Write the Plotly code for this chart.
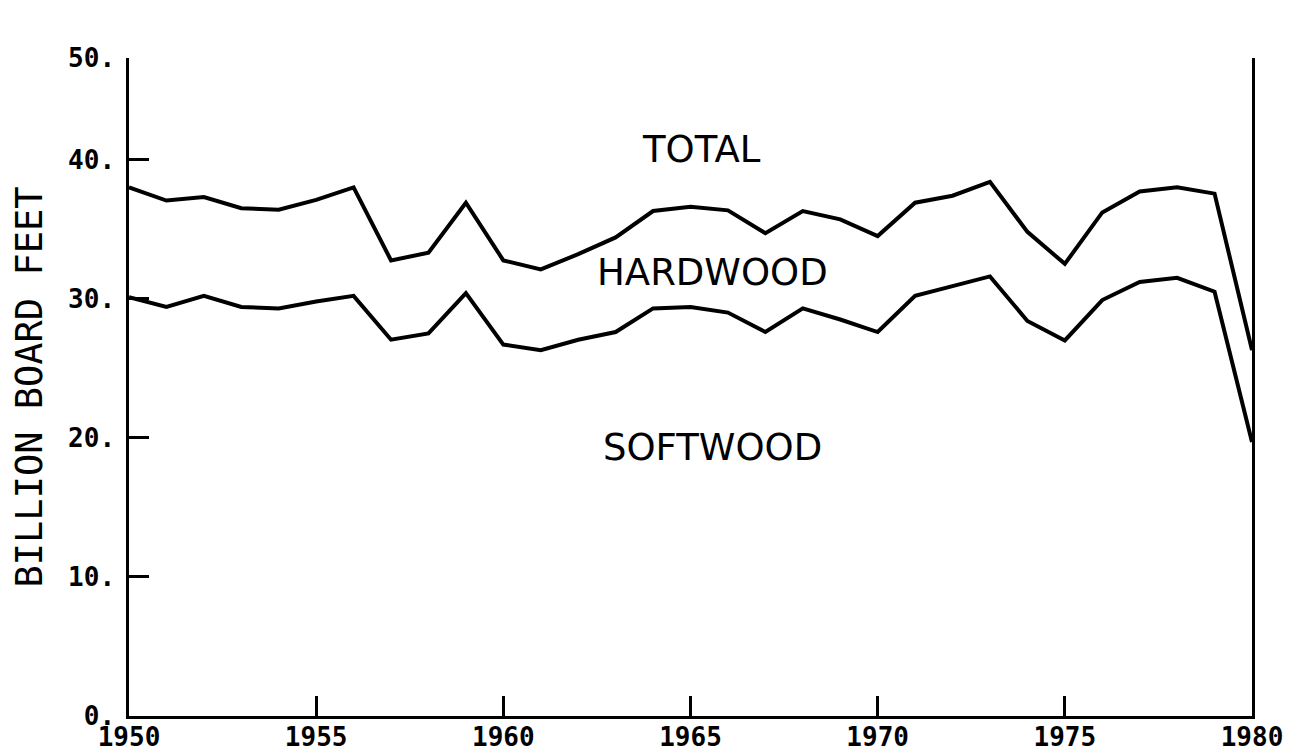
import plotly.graph_objects as go

years = list(range(1950, 1981))
total = [38.0, 37.05, 37.3, 36.5, 36.4, 37.1, 38.0, 32.75, 33.3, 36.9,
         32.75, 32.1, 33.2, 34.4, 36.3, 36.6, 36.35, 34.7, 36.3, 35.7,
         34.5, 36.9, 37.4, 38.4, 34.8, 32.5, 36.2, 37.7, 38.0, 37.55, 26.3]
softwood = [30.1, 29.4, 30.2, 29.4, 29.3, 29.8, 30.2, 27.05, 27.5, 30.4,
            26.7, 26.3, 27.05, 27.6, 29.3, 29.4, 29.0, 27.6, 29.3, 28.5,
            27.6, 30.2, 30.9, 31.6, 28.4, 27.0, 29.9, 31.2, 31.5, 30.5, 19.7]

x_ticks = [1950, 1955, 1960, 1965, 1970, 1975, 1980]
x_ticktext = ["1950", "1955", "1960", "1965", "1970", "1975", "1980"]
y_ticks = [0, 10, 20, 30, 40, 47.3]
y_ticktext = ["0.", "10.", "20.", "30.", "40.", "50."]
labels = ["TOTAL", "HARDWOOD", "SOFTWOOD"]
label_x = [1965.3, 1965.6, 1965.6]
label_y = [40.7, 31.9, 19.3]

fig = go.Figure()
fig.add_trace(go.Scatter(x=years, y=total, mode="lines",
                         line=dict(color="black", width=4), showlegend=False))
fig.add_trace(go.Scatter(x=years, y=softwood, mode="lines",
                         line=dict(color="black", width=4), showlegend=False))

for t, lx, ly in zip(labels, label_x, label_y):
    fig.add_annotation(x=lx, y=ly, text=t, showarrow=False,
                       font=dict(family="DejaVu Sans", size=37, color="black"))

tickfont = dict(family="DejaVu Sans Mono", size=26, color="black", weight="bold")

fig.update_xaxes(range=[1950, 1980], tickvals=x_ticks, ticktext=x_ticktext,
                 ticks="inside", ticklen=20, tickwidth=2.5, tickcolor="black",
                 showline=True, linecolor="black", linewidth=2.5, mirror=False,
                 showgrid=False, zeroline=False, tickfont=tickfont,
                 automargin=False, ticklabelstandoff=-4)
fig.update_yaxes(range=[0, 47.3], tickvals=y_ticks, ticktext=y_ticktext,
                 ticks="inside", ticklen=20, tickwidth=2.5, tickcolor="black",
                 showline=True, linecolor="black", linewidth=2.5, mirror=True,
                 showgrid=False, zeroline=False, tickfont=tickfont,
                 automargin=False, ticklabelstandoff=6,
                 title=dict(text="BILLION BOARD FEET", standoff=20,
                            font=dict(family="DejaVu Sans Mono", size=37, color="black")))

fig.update_layout(width=1291, height=746,
                  margin=dict(l=121, r=47, t=50, b=38),
                  plot_bgcolor="white", paper_bgcolor="white")

fig.write_html("out.html")
